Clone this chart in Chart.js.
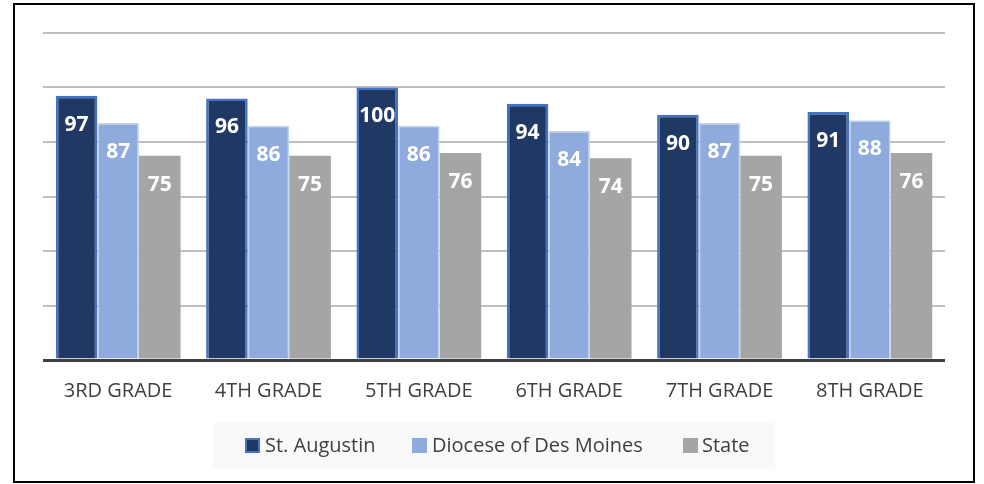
<!DOCTYPE html>
<html>
<head>
<meta charset="utf-8">
<script src="https://cdn.jsdelivr.net/npm/chart.js@4/dist/chart.umd.min.js"></script>
<style>
html,body{margin:0;padding:0;background:#fff;}
#wrap{position:relative;width:984px;height:484px;}
</style>
</head>
<body>
<div id="wrap"><canvas id="c" width="984" height="484"></canvas></div>
<script>
const categories = ["3RD GRADE","4TH GRADE","5TH GRADE","6TH GRADE","7TH GRADE","8TH GRADE"];
const seriesNames = ["St. Augustin","Diocese of Des Moines","State"];
const stAugustin = [97,96,100,94,90,91];
const diocese = [87,86,86,84,87,88];
const state = [75,75,76,74,75,76];
const yTicks = [0,20,40,60,80,100,120];

const FONT = "'Open Sans', sans-serif";
const fills = ["#203864","#8FAADC","#A5A5A5"];
const borders = ["#4472C4","#C5D4EE","#A5A5A5"];
const bws = [2.5,1.5,0];

const labelPlugin = {
  id:'barLabels',
  afterDatasetsDraw(chart){
    const ctx = chart.ctx;
    ctx.save();
    ctx.fillStyle = '#ffffff';
    ctx.font = "bold 21px " + FONT;
    ctx.textAlign = 'center';
    ctx.textBaseline = 'middle';
    chart.data.datasets.forEach((ds,i)=>{
      const meta = chart.getDatasetMeta(i);
      meta.data.forEach((bar,j)=>{
        ctx.fillText(String(ds.data[j]), bar.x, bar.y + 29);
      });
    });
    ctx.restore();
  }
};

const framePlugin = {
  id:'frame',
  afterDraw(chart){
    const ctx = chart.ctx;
    ctx.save();
    // legend background
    ctx.fillStyle = '#f9f9f9';
    ctx.fillRect(213, 423, 562, 46);
    // legend items
    const items = [
      {x:245, tx:265},
      {x:412, tx:432},
      {x:683, tx:702}
    ];
    ctx.font = "20px " + FONT;
    ctx.textBaseline = 'middle';
    ctx.textAlign = 'left';
    items.forEach((it,i)=>{
      ctx.fillStyle = fills[i];
      ctx.fillRect(it.x, 438, 15, 15);
      if (i===0){
        ctx.strokeStyle = borders[0];
        ctx.lineWidth = 2;
        ctx.strokeRect(it.x+1, 439, 13, 13);
      }
      ctx.fillStyle = '#404040';
      ctx.fillText(seriesNames[i], it.tx, 446);
    });
    // outer frame
    ctx.strokeStyle = '#000000';
    ctx.lineWidth = 2;
    ctx.strokeRect(14, 4, 960, 478);
    ctx.restore();
  }
};

new Chart(document.getElementById('c'), {
  type:'bar',
  data:{
    labels: categories,
    datasets:[stAugustin, diocese, state].map((d,i)=>({
      label: seriesNames[i],
      data: d,
      backgroundColor: fills[i],
      borderColor: borders[i],
      borderWidth: bws[i],
      borderSkipped: 'bottom',
      barPercentage: 1.0,
      categoryPercentage: 0.83
    }))
  },
  options:{
    responsive:false,
    animation:false,
    devicePixelRatio:1,
    layout:{padding:{left:43,right:39,top:33,bottom:0}},
    plugins:{legend:{display:false}, tooltip:{enabled:false}},
    scales:{
      x:{
        grid:{display:false, drawTicks:false},
        border:{display:false},
        ticks:{color:'#404040', font:{family:FONT, size:20}, padding:19, maxRotation:0},
        afterFit(s){ s.height = 124; }
      },
      y:{
        min:0, max:120,
        afterBuildTicks(s){ s.ticks = yTicks.map(v=>({value:v})); },
        ticks:{display:false},
        border:{display:false},
        grid:{
          drawTicks:false,
          color:(c)=> c.tick && c.tick.value===0 ? '#404040' : '#BFBFBF',
          lineWidth:(c)=> c.tick && c.tick.value===0 ? 3 : 2
        },
        afterFit(s){ s.width = 0; }
      }
    }
  },
  plugins:[labelPlugin, framePlugin]
});
</script>
</body>
</html>
